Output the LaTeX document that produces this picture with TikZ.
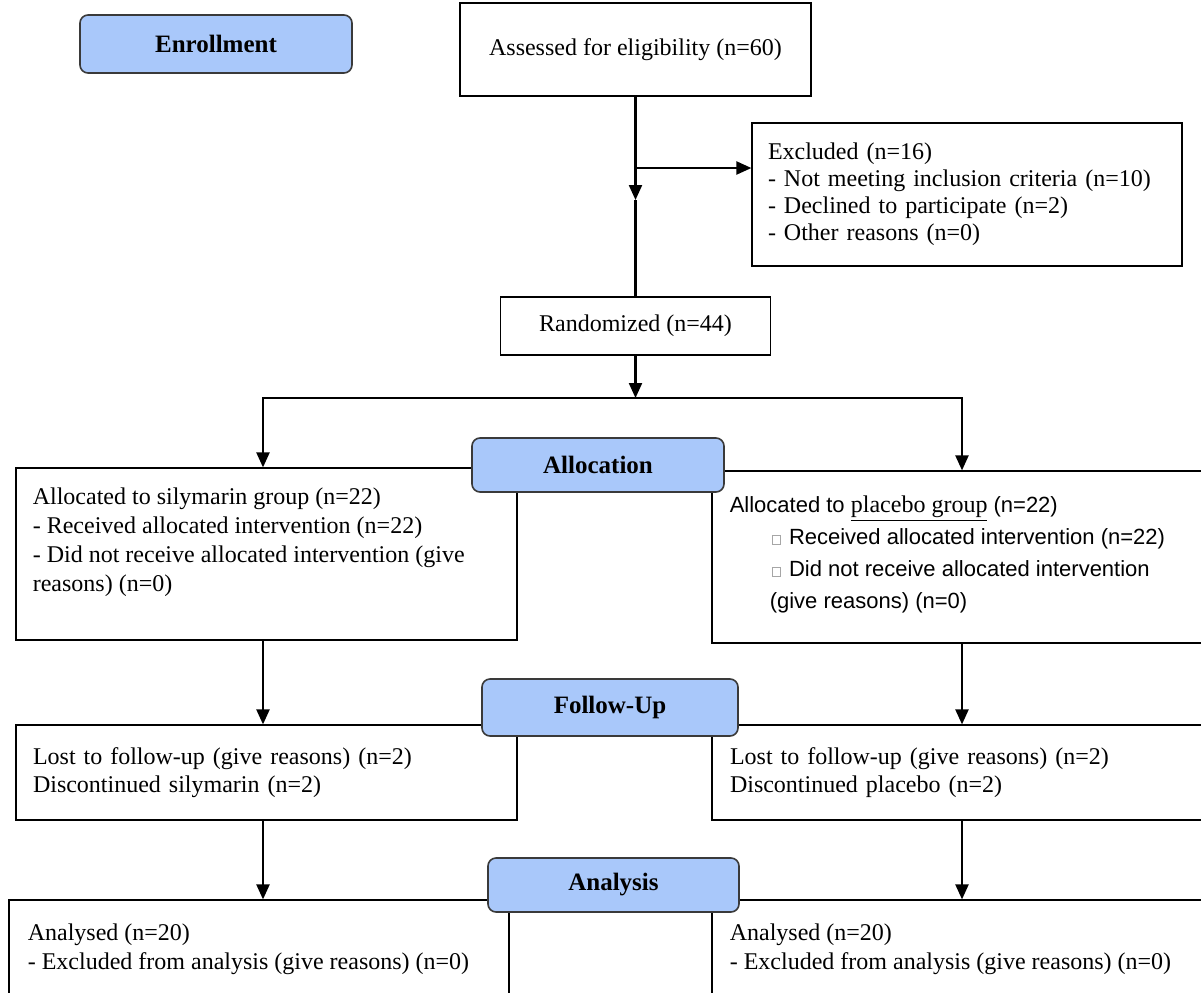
\documentclass[tikz,border=0pt]{standalone}
\usepackage{fontspec}
\setmainfont{Liberation Serif}
\newfontfamily\arialfont{Liberation Sans}
\usetikzlibrary{arrows.meta}
\definecolor{stageblue}{HTML}{A9C8FA}
\definecolor{stageline}{HTML}{3A3A3A}
\newcommand{\missingglyph}{\textcolor{gray!70}{\setlength{\fboxsep}{0pt}\setlength{\fboxrule}{0.3pt}\fbox{\rule{0pt}{4.5pt}\hspace{4pt}}}}
\begin{document}
\begin{tikzpicture}[x=0.5pt,y=-0.5pt,
  font=\fontsize{12}{14}\selectfont,
  box/.style={draw, line width=0.6pt, inner sep=0pt},
  stage/.style={draw=stageline, line width=0.8pt, fill=stageblue, rounded corners=4pt,
    font=\fontsize{12.5}{14}\selectfont\bfseries},
  txt/.style={inner sep=0pt, align=left, anchor=north west},
  conn/.style={line width=1.1pt},
  tip/.tip={Triangle[length=7.5pt,width=6.5pt]},
  arr/.style={conn, -tip}]
\useasboundingbox (0,0) rectangle (1201,992);

\node[stage, minimum width=136pt, minimum height=29pt] (enroll) at (216,44) {Enrollment};
\node[box, minimum width=175.5pt, minimum height=46.5pt] (assess) at (635.5,49.5) {Assessed for eligibility (n=60)};
\node[box, minimum width=215pt, minimum height=71.5pt, text width=199pt, inner xsep=8pt, align=left,
  font=\fontsize{12}{13.5}\selectfont] (excl) at (967,194.5)
  {Excluded (n=16)\\- Not meeting inclusion criteria (n=10)\\- Declined to participate (n=2)\\- Other reasons (n=0)};
\node[box, minimum width=135pt, minimum height=29pt] (rand) at (635.5,326) {Randomized (n=44)};

\node[box, minimum width=250.5pt, minimum height=86pt] (sily) at (266.5,554) {};
\node[txt, font=\fontsize{12}{14.5}\selectfont] (silytxt) at ([xshift=8.5pt,yshift=-10pt]sily.north west)
  {Allocated to silymarin group (n=22)\\- Received allocated intervention (n=22)\\
   - Did not receive allocated intervention (give\\reasons) (n=0)};
\node[box, minimum width=254pt, minimum height=86pt] (plac) at (966,557) {};
\node[txt, font=\arialfont\fontsize{11}{16}\selectfont] (plactxt) at ([xshift=9pt,yshift=-12.5pt]plac.north west)
  {Allocated to \underline{\rmfamily\fontsize{12}{16}\selectfont placebo group} (n=22)\\
   \hspace*{21pt}\missingglyph\hspace{4pt}Received allocated intervention (n=22)\\
   \hspace*{21pt}\missingglyph\hspace{4pt}Did not receive allocated intervention\\
   \hspace*{20pt}(give reasons) (n=0)};

\node[box, minimum width=250.5pt, minimum height=47.5pt, text width=233.5pt, inner xsep=8.5pt, align=left] (lostl) at (266.5,772.5)
  {Lost to follow-up (give reasons) (n=2)\\Discontinued silymarin (n=2)};
\node[box, minimum width=254pt, minimum height=47.5pt, text width=236pt, inner xsep=9pt, align=left] (lostr) at (966,772.5)
  {Lost to follow-up (give reasons) (n=2)\\Discontinued placebo (n=2)};

\node[box, minimum width=250pt, minimum height=55pt] (anal) at (259,955) {};
\node[txt, font=\fontsize{12}{14.5}\selectfont] (analtxt) at ([xshift=9.5pt,yshift=-12pt]anal.north west)
  {Analysed (n=20)\\- Excluded from analysis (give reasons) (n=0)};
\node[box, minimum width=254pt, minimum height=55pt] (analr) at (966,955) {};
\node[txt, font=\fontsize{12}{14.5}\selectfont] (analrtxt) at ([xshift=9pt,yshift=-12pt]analr.north west)
  {Analysed (n=20)\\- Excluded from analysis (give reasons) (n=0)};

\node[stage, minimum width=126pt, minimum height=27pt] (alloc) at (598,465) {Allocation};
\node[stage, minimum width=128pt, minimum height=28.5pt] (follow) at (610,707.5) {Follow-Up};
\node[stage, minimum width=125.5pt, minimum height=27pt] (analysis) at (613.5,885) {Analysis};

\coordinate (screen) at (635.5,200);
\coordinate (exclsplit) at (635.5,168);
\coordinate (randsplit) at (635.5,398);
\coordinate (lsplit) at (263,398);
\coordinate (rsplit) at (962,398);

\draw[arr] (assess.south) -- (screen);
\draw[conn] (screen) -- (rand.north);
\draw[arr] (exclsplit) -- (exclsplit -| excl.west);
\draw[arr] (rand.south) -- (randsplit);
\draw[conn, tip-tip] (lsplit |- sily.north) -- (lsplit) -- (rsplit) -- (rsplit |- plac.north);
\draw[arr] (lsplit |- sily.south) -- (lsplit |- lostl.north);
\draw[arr] (rsplit |- plac.south) -- (rsplit |- lostr.north);
\draw[arr] (lsplit |- lostl.south) -- (lsplit |- anal.north);
\draw[arr] (rsplit |- lostr.south) -- (rsplit |- analr.north);
\end{tikzpicture}
\end{document}
